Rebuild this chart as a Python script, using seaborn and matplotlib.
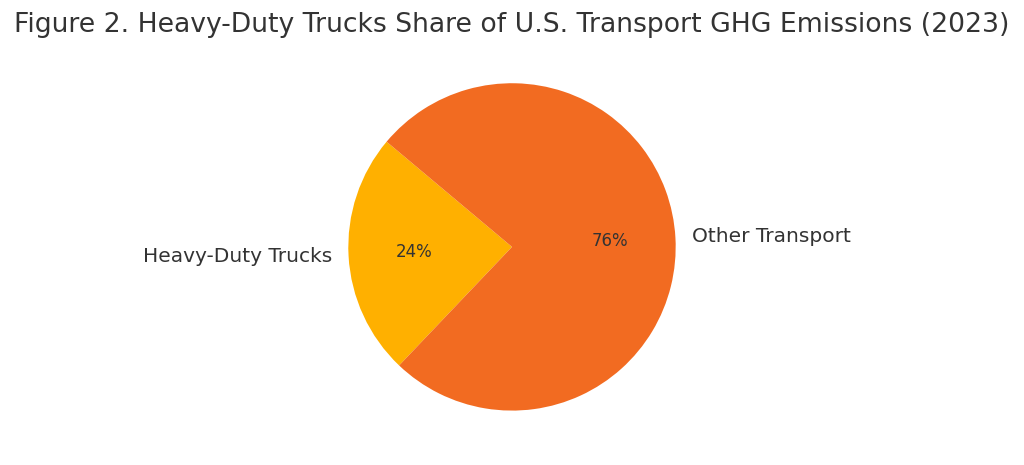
import matplotlib
matplotlib.use("Agg")
import matplotlib.pyplot as plt
import seaborn as sns

sns.set_theme(style="white")
plt.rcParams['font.family'] = ['DejaVu Sans']

labels = ["Heavy-Duty Trucks", "Other Transport"]
shares = [24, 76]
colors = ["#FFB000", "#F26B21"]

fig = plt.figure(figsize=(10.24, 4.65), dpi=100)
ax = fig.add_axes([0.30, 0.029, 0.40, 0.88])
ax.pie(shares, labels=labels, colors=colors, startangle=140, autopct='%1.0f%%',
       wedgeprops={'linewidth': 0},
       textprops={'fontsize': 14.5, 'color': '#333333'})
for t in ax.texts:
    if '%' in t.get_text():
        t.set_fontsize(12)
ax.set_aspect('equal')
fig.suptitle("Figure 2. Heavy-Duty Trucks Share of U.S. Transport GHG Emissions (2023)",
             fontsize=19.2, color='#333333', y=0.975)
fig.savefig("out.png", dpi=100)
